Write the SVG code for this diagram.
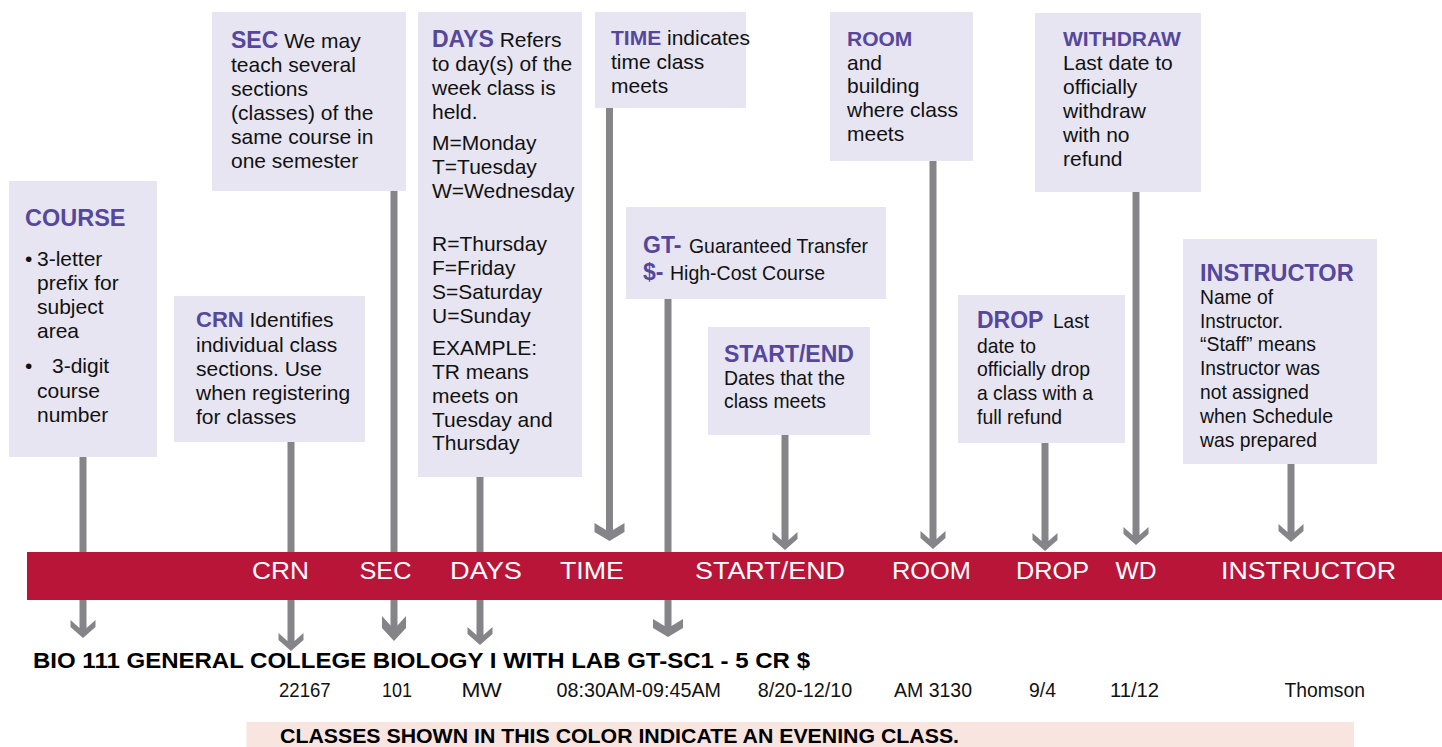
<svg xmlns="http://www.w3.org/2000/svg" width="1442" height="747" viewBox="0 0 1442 747">
<style>
.box{fill:#E7E5F2}
.t{font-family:"Liberation Sans",Arial,sans-serif;font-size:21px;fill:#111}
.c{font-family:"Liberation Sans",Arial,sans-serif;font-size:21px;fill:#111}
.h{font-family:"Liberation Sans",Arial,sans-serif;font-weight:bold;font-size:23px;fill:#56479C}
.hs{font-family:"Liberation Sans",Arial,sans-serif;font-weight:bold;font-size:21px;fill:#56479C}
.band{font-family:"Liberation Sans",Arial,sans-serif;font-size:23px;fill:#fff}
.row{font-family:"Liberation Sans",Arial,sans-serif;font-size:21px;fill:#111}
.bold{font-family:"Liberation Sans",Arial,sans-serif;font-weight:bold;font-size:22px;fill:#000}
.ln{stroke:#858589;stroke-width:7;fill:none}
.ah{fill:#858589}
</style>
<defs>
<path id="ah" d="M0,0 L-12.5,-11 L-12.5,-18 L-3.5,-10.1 L3.5,-10.1 L12.5,-18 L12.5,-11 Z"/>
<path id="ahT" d="M0,0 L-12,-13 L-12,-25 L-3.5,-15.6 L3.5,-15.6 L12,-25 L12,-13 Z"/>
<path id="ahL" d="M0,0 L-15,-9 L-15,-18 L-3.5,-11.1 L3.5,-11.1 L15,-18 L15,-9 Z"/>
</defs>
<rect width="1442" height="747" fill="#fff"/>

<g id="connectors">
<line class="ln" x1="83" y1="457" x2="83" y2="628"/>
<use href="#ah" class="ah" x="83" y="638"/>
<line class="ln" x1="291" y1="442" x2="291" y2="641"/>
<use href="#ah" class="ah" x="291" y="651"/>
<line class="ln" x1="394" y1="191" x2="394" y2="626"/>
<use href="#ahT" class="ah" x="394" y="641"/>
<line class="ln" x1="480" y1="477" x2="480" y2="635"/>
<use href="#ah" class="ah" x="480" y="645"/>
<line class="ln" x1="609.5" y1="108" x2="609.5" y2="530"/>
<use href="#ahL" class="ah" x="609.5" y="541"/>
<line class="ln" x1="668" y1="299" x2="668" y2="626"/>
<use href="#ahL" class="ah" x="668" y="637"/>
<line class="ln" x1="785" y1="435" x2="785" y2="540"/>
<use href="#ah" class="ah" x="785" y="550"/>
<line class="ln" x1="933" y1="161" x2="933" y2="539"/>
<use href="#ah" class="ah" x="933" y="549"/>
<line class="ln" x1="1045" y1="443" x2="1045" y2="541"/>
<use href="#ah" class="ah" x="1045" y="551"/>
<line class="ln" x1="1136" y1="192" x2="1136" y2="535"/>
<use href="#ah" class="ah" x="1136" y="545"/>
<line class="ln" x1="1291" y1="464" x2="1291" y2="532"/>
<use href="#ah" class="ah" x="1291" y="542"/>
</g>

<g id="header-band">
<rect x="27" y="552" width="1415" height="48" fill="#B81538"/>
<text class="band" x="252" y="579" textLength="57" lengthAdjust="spacingAndGlyphs">CRN</text>
<text class="band" x="359.5" y="579" textLength="52" lengthAdjust="spacingAndGlyphs">SEC</text>
<text class="band" x="450" y="579" textLength="72" lengthAdjust="spacingAndGlyphs">DAYS</text>
<text class="band" x="560" y="579" textLength="64" lengthAdjust="spacingAndGlyphs">TIME</text>
<text class="band" x="695" y="579" textLength="150" lengthAdjust="spacingAndGlyphs">START/END</text>
<text class="band" x="892" y="579" textLength="79" lengthAdjust="spacingAndGlyphs">ROOM</text>
<text class="band" x="1016" y="579" textLength="73" lengthAdjust="spacingAndGlyphs">DROP</text>
<text class="band" x="1115.5" y="579" textLength="41" lengthAdjust="spacingAndGlyphs">WD</text>
<text class="band" x="1221" y="579" textLength="175" lengthAdjust="spacingAndGlyphs">INSTRUCTOR</text>
</g>

<g id="course">
<rect class="box" x="9" y="181" width="148" height="276"/>
<text class="h" x="25" y="226" style="font-size:23.5px">COURSE</text>
<text class="t" x="25" y="266">•</text>
<text class="t" x="37" y="266">3-letter</text>
<text class="t" x="37" y="290">prefix for</text>
<text class="t" x="37" y="314">subject</text>
<text class="t" x="37" y="338">area</text>
<text class="t" x="25" y="373">•</text>
<text class="t" x="52" y="373">3-digit</text>
<text class="t" x="37" y="398">course</text>
<text class="t" x="37" y="422">number</text>
</g>

<g id="crn">
<rect class="box" x="174" y="296" width="191" height="146"/>
<text class="t" x="196" y="327"><tspan class="h" style="font-size:22px">CRN</tspan> Identifies</text>
<text class="t" x="196" y="352">individual class</text>
<text class="t" x="196" y="376">sections. Use</text>
<text class="t" x="196" y="400">when registering</text>
<text class="t" x="196" y="424">for classes</text>
</g>

<g id="sec">
<rect class="box" x="212" y="12" width="194" height="179"/>
<text class="t" x="231" y="48"><tspan class="h">SEC</tspan> We may</text>
<text class="t" x="231" y="72">teach several</text>
<text class="t" x="231" y="96">sections</text>
<text class="t" x="231" y="120">(classes) of the</text>
<text class="t" x="231" y="144">same course in</text>
<text class="t" x="231" y="168">one semester</text>
</g>

<g id="days">
<rect class="box" x="418" y="12" width="164" height="465"/>
<text class="t" x="432" y="47"><tspan class="h">DAYS</tspan> Refers</text>
<text class="t" x="432" y="71">to day(s) of the</text>
<text class="t" x="432" y="95">week class is</text>
<text class="t" x="432" y="119">held.</text>
<text class="t" x="432" y="150">M=Monday</text>
<text class="t" x="432" y="174">T=Tuesday</text>
<text class="t" x="432" y="198">W=Wednesday</text>
<text class="t" x="432" y="251">R=Thursday</text>
<text class="t" x="432" y="275">F=Friday</text>
<text class="t" x="432" y="299">S=Saturday</text>
<text class="t" x="432" y="323">U=Sunday</text>
<text class="t" x="432" y="355">EXAMPLE:</text>
<text class="t" x="432" y="379">TR means</text>
<text class="t" x="432" y="403">meets on</text>
<text class="t" x="432" y="427">Tuesday and</text>
<text class="t" x="432" y="450">Thursday</text>
</g>

<g id="time">
<rect class="box" x="595" y="12" width="151" height="96"/>
<text class="t" x="611" y="45"><tspan class="hs">TIME</tspan> indicates</text>
<text class="t" x="611" y="69">time class</text>
<text class="t" x="611" y="93">meets</text>
</g>

<g id="gt">
<rect class="box" x="626" y="207" width="260" height="92"/>
<text class="h" x="643" y="253">GT-</text>
<text class="c" x="689" y="253" textLength="179" lengthAdjust="spacingAndGlyphs">Guaranteed Transfer</text>
<text class="h" x="643" y="280">$-</text>
<text class="c" x="670" y="280" textLength="155" lengthAdjust="spacingAndGlyphs">High-Cost Course</text>
</g>

<g id="startend">
<rect class="box" x="708" y="327" width="162" height="108"/>
<text class="h" x="724" y="362">START/END</text>
<text class="c" x="724" y="385" textLength="121" lengthAdjust="spacingAndGlyphs">Dates that the</text>
<text class="c" x="724" y="408" textLength="102" lengthAdjust="spacingAndGlyphs">class meets</text>
</g>

<g id="room">
<rect class="box" x="830" y="12" width="143" height="149"/>
<text class="hs" x="847" y="46">ROOM</text>
<text class="t" x="847" y="70">and</text>
<text class="t" x="847" y="93">building</text>
<text class="t" x="847" y="117">where class</text>
<text class="t" x="847" y="141">meets</text>
</g>

<g id="withdraw">
<rect class="box" x="1035" y="13" width="166" height="179"/>
<text class="hs" x="1063" y="46">WITHDRAW</text>
<text class="t" x="1063" y="70">Last date to</text>
<text class="t" x="1063" y="94">officially</text>
<text class="t" x="1063" y="118">withdraw</text>
<text class="t" x="1063" y="142">with no</text>
<text class="t" x="1063" y="166">refund</text>
</g>

<g id="drop">
<rect class="box" x="958" y="295" width="167" height="148"/>
<text class="h" x="977" y="328">DROP</text>
<text class="c" x="1053" y="328" textLength="36" lengthAdjust="spacingAndGlyphs">Last</text>
<text class="c" x="977" y="353" textLength="59" lengthAdjust="spacingAndGlyphs">date to</text>
<text class="c" x="977" y="376" textLength="113" lengthAdjust="spacingAndGlyphs">officially drop</text>
<text class="c" x="977" y="400" textLength="116" lengthAdjust="spacingAndGlyphs">a class with a</text>
<text class="c" x="977" y="424" textLength="85" lengthAdjust="spacingAndGlyphs">full refund</text>
</g>

<g id="instructor">
<rect class="box" x="1183" y="239" width="194" height="225"/>
<text class="h" x="1200" y="281" style="font-size:23.5px">INSTRUCTOR</text>
<text class="c" x="1200" y="304" textLength="73" lengthAdjust="spacingAndGlyphs">Name of</text>
<text class="c" x="1200" y="328" textLength="83" lengthAdjust="spacingAndGlyphs">Instructor.</text>
<text class="c" x="1200" y="351" textLength="116" lengthAdjust="spacingAndGlyphs">“Staff” means</text>
<text class="c" x="1200" y="375" textLength="120" lengthAdjust="spacingAndGlyphs">Instructor was</text>
<text class="c" x="1200" y="399" textLength="109" lengthAdjust="spacingAndGlyphs">not assigned</text>
<text class="c" x="1200" y="423" textLength="133" lengthAdjust="spacingAndGlyphs">when Schedule</text>
<text class="c" x="1200" y="447" textLength="117" lengthAdjust="spacingAndGlyphs">was prepared</text>
</g>

<g id="course-listing">
<text class="bold" x="33" y="668" textLength="777" lengthAdjust="spacingAndGlyphs">BIO 111 GENERAL COLLEGE BIOLOGY I WITH LAB GT-SC1 - 5 CR $</text>
<text class="row" x="279" y="697" textLength="51.6" lengthAdjust="spacingAndGlyphs">22167</text>
<text class="row" x="382" y="697" textLength="30" lengthAdjust="spacingAndGlyphs">101</text>
<text class="row" x="461.4" y="697" textLength="40.4" lengthAdjust="spacingAndGlyphs">MW</text>
<text class="row" x="556.5" y="697" textLength="164.5" lengthAdjust="spacingAndGlyphs">08:30AM-09:45AM</text>
<text class="row" x="757.7" y="697" textLength="94.7" lengthAdjust="spacingAndGlyphs">8/20-12/10</text>
<text class="row" x="894" y="697" textLength="78" lengthAdjust="spacingAndGlyphs">AM 3130</text>
<text class="row" x="1029" y="697" textLength="27" lengthAdjust="spacingAndGlyphs">9/4</text>
<text class="row" x="1110" y="697" textLength="49" lengthAdjust="spacingAndGlyphs">11/12</text>
<text class="row" x="1284.5" y="697" textLength="80.5" lengthAdjust="spacingAndGlyphs">Thomson</text>
</g>

<g id="evening-note">
<rect x="246.5" y="722" width="1107.5" height="25" fill="#F8E5DF"/>
<text class="bold" x="280" y="743" style="font-size:20px" textLength="679" lengthAdjust="spacingAndGlyphs">CLASSES SHOWN IN THIS COLOR INDICATE AN EVENING CLASS.</text>
</g>
</svg>
